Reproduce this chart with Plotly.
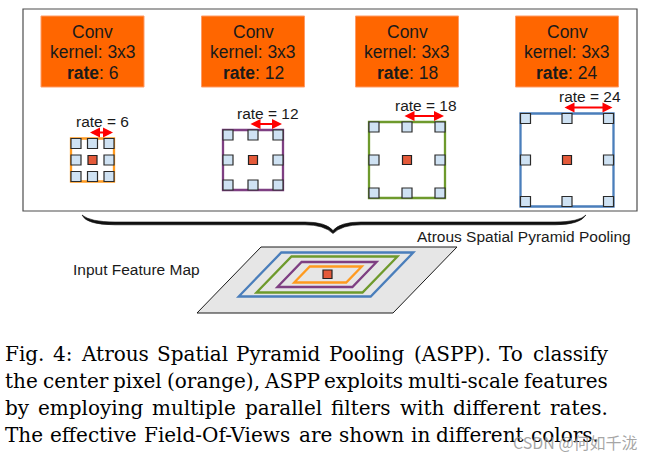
import plotly.graph_objects as go

# ---------------- data ----------------
rates = [6, 12, 18, 24]
conv_title = "Conv"
kernel_label = "kernel: 3x3"
aspp_label = "Atrous Spatial Pyramid Pooling"
input_label = "Input Feature Map"
caption_lines = [
    "Fig. 4: Atrous Spatial Pyramid Pooling (ASPP). To classify",
    "the center pixel (orange), ASPP exploits multi-scale features",
    "by employing multiple parallel filters with different rates.",
    "The effective Field-Of-Views are shown in different colors.",
]
watermark = "CSDN @何如千泷"

# ---------------- layout / styles ----------------
W, H = 658, 460
col_x = [92.5, 253, 407, 567]
grid_half = [21.5, 30, 38, 46.5]
ring_colors = ["#FF9A1F", "#7E3F82", "#6E9A2C", "#4A7EBB"]
ring_w = [26, 37.5, 53, 66]
ring_h = [8, 12.5, 18, 22]
SANS = "Liberation Sans, Arial, sans-serif"
SERIF = "DejaVu Serif, serif"
TXT = "#1a1a1a"
GY = 160

shapes = []
ann = []

# outer frame
shapes.append(dict(type="rect", x0=23, y0=9, x1=637, y1=211,
                   line=dict(color="#4d4d4d", width=1.2), fillcolor="rgba(0,0,0,0)"))

for k, r in enumerate(rates):
    cx = col_x[k]
    h = grid_half[k]
    # conv box
    shapes.append(dict(type="rect", x0=cx - 51.5, y0=16, x1=cx + 51.5, y1=87,
                       fillcolor="#FF6600", line=dict(color="#FF9B66", width=1)))
    for yy, t in [(32, conv_title), (52, kernel_label), (73, "<b>rate</b>: %d" % r)]:
        ann.append(dict(x=cx, y=yy, text=t, showarrow=False, xanchor="center", yanchor="middle",
                        font=dict(family=SANS, size=17.5, color=TXT)))
    # field of view frame
    shapes.append(dict(type="rect", x0=cx - h, y0=GY - h, x1=cx + h, y1=GY + h,
                       line=dict(color=ring_colors[k], width=2.3), fillcolor="rgba(0,0,0,0)"))
    d = h - 5
    for i in (-1, 0, 1):
        for j in (-1, 0, 1):
            px, py = cx + i * d, GY + j * d
            if i == 0 and j == 0:
                shapes.append(dict(type="rect", x0=px - 4.5, y0=py - 4.5, x1=px + 4.5, y1=py + 4.5,
                                   fillcolor="#E45A3A", line=dict(color="#222", width=1.2)))
            else:
                shapes.append(dict(type="rect", x0=px - 5, y0=py - 5, x1=px + 5, y1=py + 5,
                                   fillcolor="#CFE2F3", line=dict(color="#2b2b2b", width=1.2)))
    # rate arrow
    ay = GY - h - 6
    xa0, xa1 = cx - 4, cx + h - 1
    ann.append(dict(x=xa1, y=ay, ax=xa0, ay=ay, axref="x", ayref="y", xref="x", yref="y",
                    text="", showarrow=True, arrowside="end+start", arrowhead=2, arrowsize=1,
                    arrowwidth=2, arrowcolor="#FF0000", standoff=0, startstandoff=0))
    ann.append(dict(x=(xa0 + xa1) / 2 + 2, y=ay - 11, text="rate = %d" % r, showarrow=False,
                    xanchor="center", yanchor="middle", font=dict(family=SANS, size=15.5, color=TXT)))

# brace (tapered, filled)
brace = ("M 82,215 Q 90,222 115,222 L 305,222 Q 326,222 333,230.5 Q 340,222 361,222 "
         "L 555,222 Q 579,222 586,215 Q 580,224.8 555,224.8 L 361,224.8 Q 342,224.8 333,233.5 "
         "Q 324,224.8 305,224.8 L 115,224.8 Q 86,224.8 82,215 Z")
shapes.append(dict(type="path", path=brace, fillcolor="#111", line=dict(color="#111", width=0.6)))
ann.append(dict(x=415, y=236, text=aspp_label, showarrow=False, xanchor="left", yanchor="middle",
                font=dict(family=SANS, size=15.5, color=TXT)))
ann.append(dict(x=71, y=269, text=input_label, showarrow=False, xanchor="left", yanchor="middle",
                font=dict(family=SANS, size=15.5, color=TXT)))

# input feature map (sheared plane)
def para(cx, cy, w, h, kx=0.97):
    s = kx * h
    pts = [(cx - w + s, cy - h), (cx + w + s, cy - h), (cx + w - s, cy + h), (cx - w - s, cy + h)]
    return "M " + " L ".join("%.1f,%.1f" % p for p in pts) + " Z"

shapes.append(dict(type="path", path=para(327, 280, 98, 33), fillcolor="#E6E6E6",
                   line=dict(color="#1a1a1a", width=1)))
ring_cx = [328, 327, 327, 326]
for k in range(4):
    shapes.append(dict(type="path", path=para(ring_cx[k], 274.5, ring_w[k], ring_h[k]),
                       fillcolor="rgba(0,0,0,0)", line=dict(color=ring_colors[k], width=2.3)))
shapes.append(dict(type="rect", x0=323, y0=270, x1=332, y1=278.5,
                   fillcolor="#E45A3A", line=dict(color="#222", width=1.2)))

# caption, justified word by word
CW = {' ': .318, '.': .318, ',': .318, ':': .337, '(': .390, ')': .390, '-': .338, '4': .636,
      'A': .722, 'F': .694, 'O': .820, 'P': .673, 'S': .685, 'T': .667, 'V': .722,
      'a': .596, 'b': .640, 'c': .560, 'd': .640, 'e': .592, 'f': .370, 'g': .640, 'h': .644,
      'i': .320, 'l': .320, 'm': .948, 'n': .644, 'o': .602, 'p': .640, 'r': .478, 's': .513,
      't': .402, 'u': .644, 'v': .565, 'w': .856, 'x': .564, 'y': .565}
FS = 20
def wwidth(s):
    return sum(CW.get(c, 0.6) for c in s) * FS

line_y = [354, 381, 408, 435]
left, right = 4, 607
for li, line in enumerate(caption_lines):
    words = line.split(" ")
    widths = [wwidth(w) for w in words]
    target = right - left if li < 3 else 594
    gap = (target - sum(widths)) / (len(words) - 1)
    x = left
    for w, wd in zip(words, widths):
        ann.append(dict(x=x, y=line_y[li], text=w, showarrow=False, xanchor="left", yanchor="middle",
                        borderpad=0, font=dict(family=SERIF, size=FS, color="#000")))
        x += wd + gap

ann.append(dict(x=575, y=442, text=watermark, showarrow=False, xanchor="center", yanchor="middle",
                font=dict(family="Noto Sans CJK SC, sans-serif", size=16, color="rgba(150,150,150,0.85)")))

fig = go.Figure()
fig.update_layout(
    width=W, height=H, margin=dict(l=0, r=0, t=0, b=0),
    paper_bgcolor="white", plot_bgcolor="white",
    xaxis=dict(range=[0, W], visible=False, fixedrange=True),
    yaxis=dict(range=[H, 0], visible=False, fixedrange=True),
    shapes=shapes, annotations=ann, showlegend=False,
)
fig.write_html("out.html", config={"displayModeBar": False},
               post_script="document.body.style.margin='0px';document.body.style.overflow='hidden';")
